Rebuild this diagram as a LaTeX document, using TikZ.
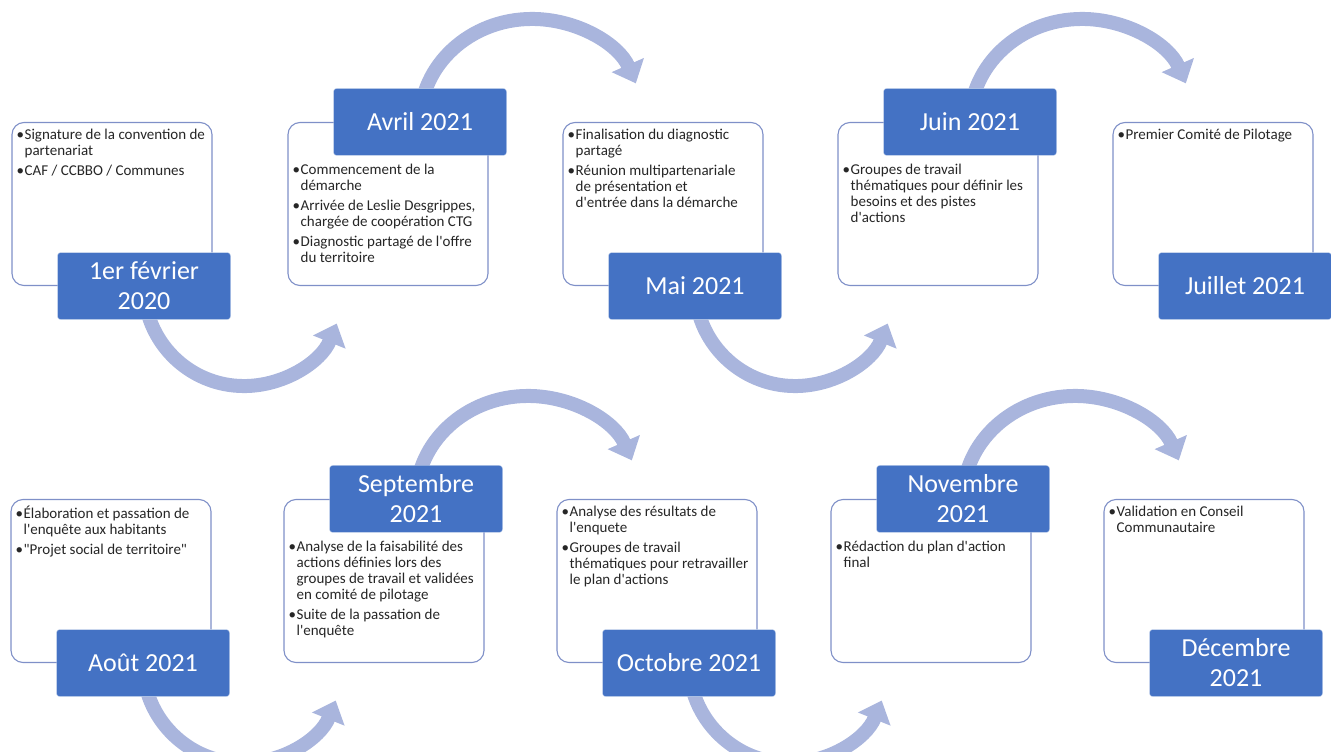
\documentclass[tikz,border=0pt]{standalone}
\usepackage{fontspec}
\setmainfont{Carlito}
\newfontfamily\calib{Carlito}
\usetikzlibrary{positioning, arrows.meta, backgrounds}

\definecolor{datebg}{HTML}{4472C4}
\definecolor{arrowc}{HTML}{A9B5DD}
\definecolor{boxline}{HTML}{7F90C8}
\definecolor{textc}{HTML}{262626}

\newcommand{\bul}{\makebox[8pt][l]{•}}
\newcommand{\ind}{\hspace*{8pt}}

\begin{document}
\begin{tikzpicture}[x=1pt, y=-1pt]
    % Define block styles
    \tikzstyle{card} = [rectangle, draw=boxline, fill=white, line width=1.1pt, rounded corners=12pt, minimum width=200pt, minimum height=163pt, inner sep=0pt]
    \tikzstyle{date} = [rectangle, draw=white!75!datebg, fill=datebg, text=white, rounded corners=3pt, minimum width=173pt, minimum height=67pt, align=center, font=\fontsize{26}{30}\selectfont]
    \tikzstyle{items} = [align=left, inner sep=0pt, text=textc, font=\calib\fontsize{15}{16}\selectfont]
    \tikzstyle{flow} = [line width=14pt, draw=arrowc, -{Triangle[width=34pt, length=20pt]}]

    \useasboundingbox (0,0) rectangle (1331,752);

    % Place nodes, first row
    \node [card] (b1) at (112,204) {};
    \node [card] (b2) at (388,204) {};
    \node [card] (b3) at (663,204) {};
    \node [card] (b4) at (938,204) {};
    \node [card] (b5) at (1213,204) {};
    \node [date] (d1) at ([xshift=32pt]b1.south) {1er février\\2020};
    \node [date] (d2) at ([xshift=32pt]b2.north) {Avril 2021};
    \node [date] (d3) at ([xshift=32pt]b3.south) {Mai 2021};
    \node [date] (d4) at ([xshift=32pt]b4.north) {Juin 2021};
    \node [date] (d5) at ([xshift=32pt]b5.south) {Juillet 2021};

    % Place nodes, second row
    \node [card] (b6) at (111,581) {};
    \node [card] (b7) at (384,581) {};
    \node [card] (b8) at (657,581) {};
    \node [card] (b9) at (931,581) {};
    \node [card] (b10) at (1204,581) {};
    \node [date] (d6) at ([xshift=32pt]b6.south) {Août 2021};
    \node [date] (d7) at ([xshift=32pt]b7.north) {Septembre\\2021};
    \node [date] (d8) at ([xshift=32pt]b8.south) {Octobre 2021};
    \node [date] (d9) at ([xshift=32pt]b9.north) {Novembre\\2021};
    \node [date] (d10) at ([xshift=32pt]b10.south) {Décembre\\2021};

    % Text inside the boxes
    \node [items, below right=7pt and 5pt of b1.north west] (t1) {\bul Signature de la convention de\\\ind partenariat\\[4pt]\bul CAF / CCBBO / Communes};
    \node [items, below right=42pt and 5pt of b2.north west] (t2) {\bul Commencement de la\\\ind démarche\\[4pt]\bul Arrivée de Leslie Desgrippes,\\\ind chargée de coopération CTG\\[4pt]\bul Diagnostic partagé de l'offre\\\ind du territoire};
    \node [items, below right=7pt and 5pt of b3.north west] (t3) {\bul Finalisation du diagnostic\\\ind partagé\\[4pt]\bul Réunion multipartenariale\\\ind de présentation et\\\ind d'entrée dans la démarche};
    \node [items, below right=42pt and 5pt of b4.north west] (t4) {\bul Groupes de travail\\\ind thématiques pour définir les\\\ind besoins et des pistes\\\ind d'actions};
    \node [items, below right=7pt and 5pt of b5.north west] (t5) {\bul Premier Comité de Pilotage};
    \node [items, below right=7pt and 5pt of b6.north west] (t6) {\bul Élaboration et passation de\\\ind l'enquête aux habitants\\[4pt]\bul "Projet social de territoire"};
    \node [items, below right=42pt and 5pt of b7.north west] (t7) {\bul Analyse de la faisabilité des\\\ind actions définies lors des\\\ind groupes de travail et validées\\\ind en comité de pilotage\\[4pt]\bul Suite de la passation de\\\ind l'enquête};
    \node [items, below right=7pt and 5pt of b8.north west] (t8) {\bul Analyse des résultats de\\\ind l'enquete\\[4pt]\bul Groupes de travail\\\ind thématiques pour retravailler\\\ind le plan d'actions};
    \node [items, below right=42pt and 5pt of b9.north west] (t9) {\bul Rédaction du plan d'action\\\ind final};
    \node [items, below right=7pt and 5pt of b10.north west] (t10) {\bul Validation en Conseil\\\ind Communautaire};

    % Draw connections as arrows
    \begin{scope}[on background layer]
        \draw [flow] (d1.center) arc[start angle=180, end angle=22, radius=100];
        \draw [flow] (d2.center) arc[start angle=180, end angle=338, x radius=112, y radius=103];
        \draw [flow] (d3.center) arc[start angle=180, end angle=22, radius=100];
        \draw [flow] (d4.center) arc[start angle=180, end angle=338, x radius=112, y radius=103];
        \draw [flow] (d6.center) arc[start angle=180, end angle=22, radius=100];
        \draw [flow] (d7.center) arc[start angle=180, end angle=338, x radius=112, y radius=103];
        \draw [flow] (d8.center) arc[start angle=180, end angle=22, radius=100];
        \draw [flow] (d9.center) arc[start angle=180, end angle=338, x radius=112, y radius=103];
    \end{scope}
\end{tikzpicture}
\end{document}
